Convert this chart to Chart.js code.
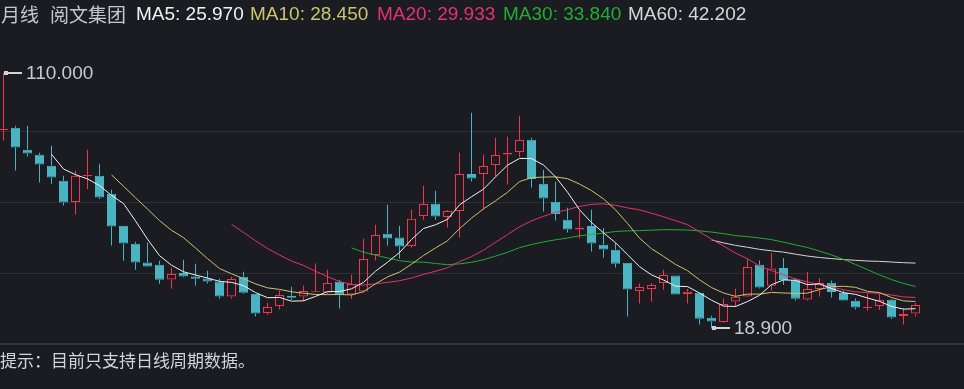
<!DOCTYPE html>
<html>
<head>
<meta charset="utf-8">
<script src="https://cdn.jsdelivr.net/npm/chart.js@4.4.0/dist/chart.umd.min.js"></script>
<style>
  html, body { margin: 0; padding: 0; background: #1a1c21; }
  body { width: 964px; height: 389px; overflow: hidden; position: relative; }
  #box { position: absolute; left: 0; top: 0; width: 964px; height: 389px; }
  .hd { position: absolute; top: 3px; font: 19px/21px "Liberation Sans", Arial, sans-serif; white-space: pre; }
  .cn { font-family: "Noto Sans CJK SC", sans-serif; color: #c3c8cf; }
  #foot { position: absolute; left: 0; top: 350px; font: 17px/20px "Noto Sans CJK SC", sans-serif; color: #d2d4d8; white-space: pre; }
</style>
</head>
<body>
<div id="box"><canvas id="c"></canvas></div>
<div id="head"></div>
<div id="foot">提示：目前只支持日线周期数据。</div>
<script>
// monthly candles (HK$)
var opens = [89.6, 90.41, 82.57, 80.79, 76.87, 71.52, 63.94, 73.2, 73.31, 66.89,
  55.49, 49.08, 42.42, 41.6, 36.36, 38.64, 37.43, 36.72, 35.65, 30.31,
  37.32, 31.27, 24.39, 26.89, 30.56, 30.31, 31.8, 31.73, 35.54, 31.02,
  32.09, 45.06, 52.64, 51.33, 48.26, 58.95, 63.33, 58.59, 60.73, 73.91,
  73.91, 77.12, 80.89, 81.75, 86.13, 70.46, 64.04, 57.63, 54.18, 55.39,
  48.72, 46.94, 42.31, 32.23, 32.94, 35.08, 37.79, 31.16, 31.62, 22.72,
  21.19, 28.53, 30.31, 41.6, 34.12, 40.42, 36.26, 29.24, 32.94, 35.19,
  31.52, 28.77, 26.15, 26.89, 29.13, 23.33, 24.25];
var highs = [110, 91.12, 91.12, 81.5, 83.99, 73.31, 75.09, 82.57, 77.58, 68.32,
  55.49, 49.79, 49.54, 43.02, 40.53, 43.38, 41.96, 39.46, 36.61, 37.32,
  39.11, 31.27, 28.06, 32.44, 33.76, 34.23, 42.07, 39.82, 36.26, 38.04,
  50.86, 55.85, 62.97, 55.49, 61.19, 69.74, 67.96, 61.09, 81.5, 95.75,
  80.79, 86.84, 87.2, 94.68, 86.84, 75.44, 71.17, 61.91, 60.84, 61.19,
  54.67, 49.44, 42.31, 34.94, 35.08, 39.82, 37.79, 32.94, 31.62, 23.43,
  29.6, 33.05, 43.74, 43.13, 45.77, 43.99, 36.86, 39.0, 36.86, 36.01,
  32.44, 29.6, 31.38, 31.38, 29.38, 26.18, 27.96];
var lows = [85.88, 75.19, 80.18, 70.92, 70.46, 62.73, 59.52, 68.57, 65.01, 48.48,
  43.02, 39.82, 40.78, 34.83, 33.05, 37.15, 34.23, 34.94, 29.49, 29.6,
  31.27, 23.18, 23.79, 25.67, 29.13, 28.67, 31.73, 31.16, 26.03, 29.38,
  31.52, 43.13, 48.48, 43.84, 47.76, 57.63, 57.63, 54.89, 51.33, 71.28,
  61.19, 73.06, 70.21, 79.97, 69.14, 60.59, 57.38, 53.11, 50.97, 46.34,
  44.2, 40.64, 23.18, 27.81, 28.42, 32.8, 31.02, 27.81, 20.33, 18.9,
  21.0, 26.53, 30.09, 33.16, 32.44, 34.47, 28.88, 28.77, 30.31, 29.95,
  28.67, 25.67, 25.32, 25.46, 22.26, 20.33, 23.18];
var closes = [90.0, 83.39, 81.25, 77.33, 72.7, 63.79, 73.31, 73.6, 65.58, 55.24,
  49.19, 42.42, 41.0, 36.26, 38.29, 37.43, 36.61, 35.65, 30.31, 36.51,
  31.62, 24.25, 26.53, 30.81, 29.84, 32.23, 32.1, 35.08, 30.91, 34.72,
  43.63, 52.18, 50.97, 48.12, 57.99, 63.22, 58.81, 60.73, 73.91, 72.34,
  76.76, 80.68, 81.5, 86.02, 72.13, 65.22, 59.66, 54.18, 54.78, 49.19,
  47.05, 41.96, 32.8, 33.66, 34.37, 37.93, 31.02, 31.98, 22.36, 21.4,
  27.6, 30.2, 40.78, 33.51, 40.28, 36.15, 29.49, 32.94, 35.08, 31.87,
  28.88, 26.39, 26.55, 29.02, 22.83, 24.04, 27.24];

// moving average lines, each starting at the candle index given in maStart
var ma5 = [80.93, 75.69, 73.68, 72.15, 69.80, 66.30, 63.38, 57.21, 50.69, 44.82,
  41.43, 39.08, 37.92, 36.85, 35.66, 35.30, 34.14, 31.67, 29.84, 29.94,
  28.61, 28.73, 30.30, 32.01, 32.03, 33.01, 35.29, 39.30, 42.48, 45.92,
  50.58, 54.50, 55.82, 57.77, 62.93, 65.80, 68.51, 72.88, 77.04, 79.46,
  79.42, 77.11, 72.91, 67.44, 61.19, 56.61, 52.97, 49.43, 45.16, 40.93,
  37.97, 36.14, 33.96, 33.79, 31.53, 28.94, 26.87, 26.71, 28.47, 30.70,
  34.47, 36.18, 36.04, 34.47, 34.79, 33.11, 31.65, 31.03, 29.75, 28.54,
  26.73, 25.77, 25.94];
var ma10 = [73.62, 69.54, 65.44, 61.42, 57.31, 53.87, 51.23, 47.56, 43.77, 40.24,
  38.37, 36.61, 34.79, 33.35, 32.80, 31.96, 31.44, 30.99, 30.93, 30.99,
  30.81, 32.01, 34.80, 37.25, 38.98, 41.79, 44.89, 47.56, 50.13, 54.43,
  58.19, 61.50, 64.35, 67.41, 71.20, 72.61, 72.81, 72.90, 72.24, 70.33,
  68.01, 65.04, 61.17, 56.30, 51.06, 47.29, 44.56, 41.69, 39.47, 36.23,
  33.45, 31.51, 30.33, 31.13, 31.12, 31.71, 31.53, 31.38, 31.47, 32.74,
  33.79, 33.92, 33.54, 32.11, 31.67, 29.92, 28.71, 28.48];
var ma20 = [55.99, 53.07, 50.12, 47.38, 45.06, 42.91, 41.33, 39.27, 37.35, 35.61,
  34.59, 34.31, 34.80, 35.30, 35.89, 36.87, 38.16, 39.27, 40.53, 42.71,
  44.50, 46.76, 49.58, 52.33, 55.09, 57.20, 58.85, 60.23, 61.18, 62.38,
  63.10, 63.27, 62.76, 61.85, 61.13, 59.95, 58.68, 57.29, 55.86, 53.28,
  50.73, 48.27, 45.75, 43.71, 41.09, 39.50, 38.04, 36.53, 35.47, 34.49,
  33.62, 32.71, 31.93, 31.62, 31.39, 30.81, 30.12, 29.93];
var ma30 = [47.60, 46.05, 45.01, 44.00, 43.03, 42.54, 42.52, 42.04, 41.61, 41.89,
  42.46, 43.37, 44.65, 46.00, 47.66, 48.79, 49.71, 50.48, 51.10, 51.91,
  52.34, 52.85, 53.44, 53.65, 53.75, 53.90, 54.09, 54.05, 53.95, 53.66,
  53.22, 52.68, 51.95, 51.61, 51.12, 50.53, 49.63, 48.65, 47.73, 46.43,
  45.09, 43.49, 41.68, 39.85, 37.95, 36.30, 34.93, 33.85];
var ma60 = [50.41, 49.37, 48.48, 47.81, 47.08, 46.54, 46.08, 45.35, 44.67, 44.16,
  43.77, 43.43, 43.16, 42.92, 42.80, 42.55, 42.32, 42.17];

var maNames  = ['MA5', 'MA10', 'MA20', 'MA30', 'MA60'];
var maLast   = ['25.970', '28.450', '29.933', '33.840', '42.202'];
var maStart  = [4, 9, 19, 29, 59];
var maColors = ['#f2f2f2', '#cbc66e', '#e4336f', '#22ad32', '#d6d6d6'];
var maSeries = [ma5, ma10, ma20, ma30, ma60];

var UP = '#f6334f', DOWN = '#4bb4c2';
var Y_MIN = 13.35, Y_MAX = 114.52;
var STEP = 12; // px per month
var X_MIN = -3.5 / STEP, X_MAX = X_MIN + 964 / STEP;

// header line
var head = document.getElementById('head');
var headPos = [1, 50, 136, 250, 377, 503, 628];
var headTexts = [['月线', 'cn', null], ['阅文集团', 'cn', null]];
maNames.forEach(function(n, k) { headTexts.push([n + ': ' + maLast[k], '', maColors[k]]); });
headTexts.forEach(function(t, k) {
  var s = document.createElement('span');
  s.className = 'hd ' + t[1];
  s.style.left = headPos[k] + 'px';
  if (t[2]) s.style.color = t[2];
  s.textContent = t[0];
  head.appendChild(s);
});

// build the floating-bar data
var isUp = closes.map(function(c, i) { return c >= opens[i]; });
var bodies = opens.map(function(o, i) { return {x: i, y: [o, closes[i]]}; });
var upperWicks = highs.map(function(h, i) { return {x: i, y: [Math.max(opens[i], closes[i]), h]}; });
var lowerWicks = lows.map(function(l, i) { return {x: i, y: [l, Math.min(opens[i], closes[i])]}; });
var candleColor = function(ctx) { return isUp[ctx.dataIndex] ? UP : DOWN; };

var datasets = [];
maSeries.forEach(function(arr, k) {
  datasets.push({
    type: 'line',
    data: arr.map(function(v, j) { return {x: maStart[k] + j, y: v}; }),
    borderColor: maColors[k],
    borderWidth: 1,
    pointRadius: 0,
    tension: 0,
    order: 0
  });
});
datasets.push({
  type: 'bar', data: bodies, grouped: false, barThickness: 9,
  backgroundColor: function(ctx) { return isUp[ctx.dataIndex] ? 'rgba(0,0,0,0)' : DOWN; },
  borderColor: candleColor, borderWidth: 1, borderSkipped: false, inflateAmount: 0, order: 1
});
[upperWicks, lowerWicks].forEach(function(w) {
  datasets.push({
    type: 'bar', data: w, grouped: false, barThickness: 1,
    backgroundColor: candleColor, borderWidth: 0, inflateAmount: 0, order: 2
  });
});

// high / low markers
var markers = {
  id: 'markers',
  afterDatasetsDraw: function(chart) {
    var ctx = chart.ctx, xs = chart.scales.x, ys = chart.scales.y;
    var hi = highs.indexOf(Math.max.apply(null, highs));
    var lo = lows.indexOf(Math.min.apply(null, lows));
    [[hi, highs[hi]], [lo, lows[lo]]].forEach(function(m) {
      var px = Math.round(xs.getPixelForValue(m[0]));
      var py = Math.round(ys.getPixelForValue(m[1]));
      ctx.save();
      ctx.fillStyle = '#d0d3d8';
      ctx.fillRect(px, py - 2, 4, 4);
      ctx.fillRect(px, py - 1, 18, 2);
      ctx.fillStyle = '#c6cbd2';
      ctx.font = '19px "Liberation Sans", Arial, sans-serif';
      ctx.textBaseline = 'middle';
      ctx.fillText(m[1].toFixed(3), px + 22, py + 1);
      ctx.restore();
    });
  }
};

new Chart(document.getElementById('c'), {
  type: 'bar',
  data: { datasets: datasets },
  options: {
    responsive: true,
    maintainAspectRatio: false,
    animation: false,
    events: [],
    layout: { padding: { top: 60, bottom: 45, left: 0, right: 0 } },
    plugins: { legend: { display: false }, tooltip: { enabled: false } },
    scales: {
      x: { type: 'linear', min: X_MIN, max: X_MAX, offset: false, display: false },
      y: {
        min: Y_MIN, max: Y_MAX,
        afterBuildTicks: function(ax) {
          ax.ticks = [0, 1, 2, 3, 4].map(function(k) { return {value: Y_MIN + k * (Y_MAX - Y_MIN) / 4}; });
        },
        ticks: { display: false },
        border: { display: false },
        grid: {
          drawTicks: false,
          color: function(ctx) { return ctx.index === 4 ? 'rgba(0,0,0,0)' : (ctx.index === 0 ? '#35373c' : '#2d3035'); },
          lineWidth: function(ctx) { return ctx.index === 0 ? 2 : 1; }
        }
      }
    }
  },
  plugins: [markers]
});
</script>
</body>
</html>
